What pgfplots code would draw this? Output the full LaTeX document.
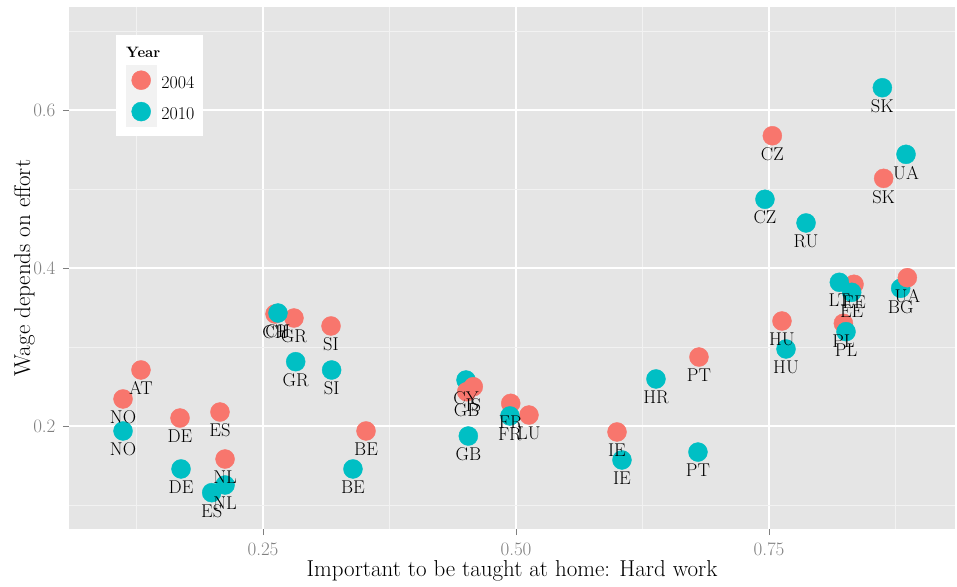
\documentclass[border=0pt]{standalone}
\usepackage{pgfplots}
\pgfplotsset{compat=1.18}
\usepackage{pgfplotstable}
\definecolor{c04}{HTML}{F8766D}
\definecolor{c10}{HTML}{00BFC4}
\definecolor{panel}{HTML}{E5E5E5}
\definecolor{minorg}{HTML}{F2F2F2}
\definecolor{tickg}{HTML}{7F7F7F}
\definecolor{keybg}{HTML}{F2F2F2}

% 2004, drawn first
\pgfplotstableread{
label x y
AT 0.1294 0.2709
NO 0.1117 0.2342
DE 0.1680 0.2101
ES 0.2075 0.2177
NL 0.2125 0.1582
CH 0.2619 0.3418
GR 0.2806 0.3367
SI 0.3172 0.3266
BE 0.3518 0.1937
FR 0.4948 0.2287
LU 0.5128 0.2139
IE 0.5998 0.1924
PT 0.6808 0.2873
HU 0.7628 0.3329
CZ 0.7533 0.5674
SK 0.8633 0.5135
EE 0.8340 0.3794
PL 0.8235 0.3300
}\dA
% 2004, drawn over the 2010 points
\pgfplotstableread{
label x y
IS 0.4578 0.2497
GB 0.4513 0.2434
UA 0.8867 0.3877
}\dB
% 2010
\pgfplotstableread{
label x y
NO 0.1117 0.1937
DE 0.1690 0.1456
ES 0.1993 0.1156
NL 0.2125 0.1253
CH 0.2648 0.3430
GR 0.2823 0.2814
SI 0.3178 0.2709
BE 0.3389 0.1456
CY 0.4506 0.2582
GB 0.4529 0.1873
FR 0.4940 0.2127
HR 0.6383 0.2595
IE 0.6047 0.1570
PT 0.6798 0.1670
HU 0.7668 0.2975
CZ 0.7460 0.4870
RU 0.7866 0.4570
SK 0.8620 0.6282
UA 0.8854 0.5439
LT 0.8195 0.3819
EE 0.8317 0.3692
PL 0.8261 0.3194
BG 0.8801 0.3743
}\dC

\begin{document}
\begin{tikzpicture}
\begin{axis}[
  scale only axis, width=886pt, height=522pt,
  xmin=0.0583, xmax=0.9338, ymin=0.0696, ymax=0.7304,
  axis background/.style={fill=panel},
  axis line style={draw=none},
  xtick={0.25,0.5,0.75}, ytick={0.2,0.4,0.6},
  xticklabels={0.25,0.50,0.75}, yticklabels={0.2,0.4,0.6},
  minor xtick={0.125,0.375,0.625,0.875},
  minor ytick={0.1,0.3,0.5,0.7},
  grid=both,
  major grid style={white, line width=1.4pt},
  minor grid style={minorg, line width=0.7pt},
  tick align=outside, major tick length=6pt, minor tick length=0pt,
  tick style={tickg, line width=0.9pt},
  xtick pos=left, ytick pos=left,
  tick label style={text=tickg, font=\fontsize{19}{21}\selectfont},
  xticklabel style={anchor=base, yshift=-20pt},
  yticklabel style={anchor=east, xshift=-4pt},
  xlabel={Important to be taught at home: Hard work},
  ylabel={Wage depends on effort},
  label style={font=\fontsize{23}{25}\selectfont},
  xlabel style={at={(axis description cs:0.5,0)}, anchor=base, yshift=-47pt},
  ylabel style={at={(axis description cs:-0.0440,0.5)}, anchor=base, rotate=0},
  legend style={at={(0.0643,0.8889)}, anchor=north west, draw=none, fill=none,
    inner sep=0pt, outer sep=0pt, row sep=1pt, column sep=5pt,
    nodes={inner sep=0pt, outer sep=0pt, font=\fontsize{18}{20}\selectfont}},
  legend cell align=left,
]
\fill[white] (rel axis cs:0.0530,0.7529) rectangle (rel axis cs:0.1512,0.9464);
\node[anchor=base west, inner sep=0pt, font=\bfseries\fontsize{15}{17}\selectfont]
  at (rel axis cs:0.0643,0.9042) {Year};

\addplot[only marks, mark=*, mark size=9.5pt, color=c04, forget plot]
  table[x=x,y=y] {\dA};
\addplot[only marks, mark=*, mark size=9.5pt, color=c10, forget plot]
  table[x=x,y=y] {\dC};
\addplot[only marks, mark=*, mark size=9.5pt, color=c04, forget plot]
  table[x=x,y=y] {\dB};

\pgfplotsset{lbl/.style={draw=none, mark=none, forget plot, nodes near coords,
  point meta=explicit symbolic,
  every node near coord/.append style={anchor=base, yshift=-24.7pt, text=black,
    inner sep=0pt, font=\fontsize{18.5}{20}\selectfont}}}
\addplot[lbl] table[x=x,y=y,meta=label] {\dA};
\addplot[lbl] table[x=x,y=y,meta=label] {\dB};
\addplot[lbl] table[x=x,y=y,meta=label] {\dC};

\addlegendimage{legend image code/.code={
  \fill[keybg] (0pt,-12pt) rectangle (30pt,18pt);
  \fill[c04] (15pt,3pt) circle (9.5pt);}}
\addlegendentry{2004}
\addlegendimage{legend image code/.code={
  \fill[keybg] (0pt,-12pt) rectangle (30pt,18pt);
  \fill[c10] (15pt,3pt) circle (9.5pt);}}
\addlegendentry{2010}
\end{axis}
\pgfresetboundingbox
\path[use as bounding box] ([xshift=-69pt,yshift=-57pt]current axis.south west)
  rectangle ([xshift=2pt,yshift=7pt]current axis.north east);
\end{tikzpicture}
\end{document}
